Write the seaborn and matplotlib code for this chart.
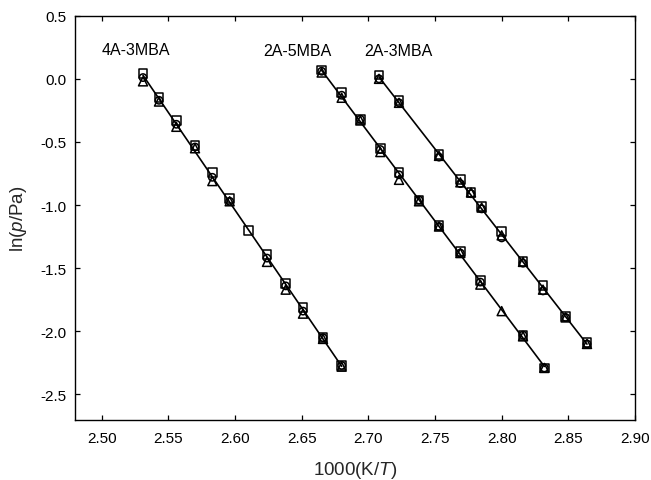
import numpy as np
import matplotlib
matplotlib.use("Agg")
import matplotlib.pyplot as plt
import seaborn as sns

nan = np.nan

# 4A-3MBA
x_4a3 = [2.531, 2.543, 2.556, 2.570, 2.583, 2.596, 2.610, 2.624, 2.638, 2.651, 2.666, 2.680]
sq_4a3 = [0.04, -0.15, -0.33, -0.53, -0.74, -0.95, -1.20, -1.39, -1.62, -1.81, -2.05, -2.27]
ci_4a3 = [0.01, -0.17, -0.36, -0.54, -0.78, -0.97, nan, -1.42, -1.64, -1.84, -2.05, -2.27]
tr_4a3 = [-0.02, -0.18, -0.38, -0.55, -0.81, -0.97, nan, -1.45, -1.67, -1.86, -2.06, -2.28]

# 2A-5MBA
x_2a5 = [2.665, 2.680, 2.694, 2.709, 2.723, 2.738, 2.753, 2.769, 2.784, 2.800, 2.816, 2.832]
sq_2a5 = [0.07, -0.11, -0.32, -0.55, -0.74, -0.96, -1.16, -1.37, -1.60, nan, -2.03, -2.29]
ci_2a5 = [0.06, -0.13, -0.32, -0.56, -0.76, -0.96, -1.17, -1.38, -1.61, nan, -2.03, -2.29]
tr_2a5 = [0.05, -0.15, -0.33, -0.58, -0.80, -0.97, -1.17, -1.38, -1.63, -1.84, -2.04, -2.29]

# 2A-3MBA
x_2a3 = [2.708, 2.723, 2.753, 2.769, 2.777, 2.785, 2.800, 2.816, 2.831, 2.848, 2.864]
sq_2a3 = [0.03, -0.17, -0.60, -0.80, -0.90, -1.01, -1.21, -1.45, -1.64, -1.88, -2.09]
ci_2a3 = [0.00, -0.19, -0.62, -0.83, -0.91, -1.03, -1.26, -1.46, -1.68, -1.89, -2.10]
tr_2a3 = [0.00, -0.19, -0.61, -0.82, -0.90, -1.02, -1.24, -1.45, -1.67, -1.89, -2.10]

labels = ["4A-3MBA", "2A-5MBA", "2A-3MBA"]
label_x = [2.500, 2.621, 2.697]
label_y = [0.235, 0.225, 0.225]

xticks = [2.50, 2.55, 2.60, 2.65, 2.70, 2.75, 2.80, 2.85, 2.90]
yticks = [-2.5, -2.0, -1.5, -1.0, -0.5, 0.0, 0.5]

sns.set_style("ticks")
plt.rcParams['font.family'] = ['Liberation Sans', 'DejaVu Sans']
plt.rcParams['mathtext.fontset'] = 'custom'
plt.rcParams['mathtext.it'] = 'Liberation Sans:italic'
plt.rcParams['mathtext.rm'] = 'Liberation Sans'
plt.rcParams['axes.unicode_minus'] = False

fig = plt.figure(figsize=(6.51, 4.81), dpi=100)
ax = fig.add_axes([75/651, 1 - 420.7/481, (635 - 75)/651, (420.7 - 16.7)/481])

series = [(x_4a3, sq_4a3, ci_4a3, tr_4a3),
          (x_2a5, sq_2a5, ci_2a5, tr_2a5),
          (x_2a3, sq_2a3, ci_2a3, tr_2a3)]

for xs, sq, ci, tr in series:
    xs = np.array(xs)
    allx = np.concatenate([xs, xs, xs])
    ally = np.concatenate([sq, ci, tr])
    m = ~np.isnan(ally)
    sns.regplot(x=allx[m], y=ally[m], ax=ax, scatter=False, ci=None, truncate=True,
                line_kws=dict(color='black', lw=1.2))
    for ys, mk, s in [(sq, 's', 40), (ci, 'o', 28), (tr, '^', 42)]:
        ys = np.array(ys)
        mm = ~np.isnan(ys)
        sns.scatterplot(x=xs[mm], y=ys[mm], ax=ax, marker=mk, s=s,
                        facecolor='none', edgecolor='black', linewidth=1.1, zorder=3)

for lab, lx, ly in zip(labels, label_x, label_y):
    ax.text(lx, ly, lab, fontsize=11.5, ha='left', va='center', color='black')

ax.set_xlim(2.48, 2.90)
ax.set_ylim(-2.70, 0.5)
ax.set_xticks(xticks)
ax.set_yticks(yticks)
ax.set_xticklabels([f"{v:.2f}" for v in xticks])
ax.set_yticklabels([f"{v:.1f}" for v in yticks])
ax.tick_params(direction='in', top=True, right=True, length=3.5, width=0.9,
               labelsize=11, colors='black')
ax.tick_params(axis='x', pad=8)
ax.tick_params(axis='y', pad=6)
for sp in ax.spines.values():
    sp.set_visible(True)
    sp.set_linewidth(1.0)
    sp.set_color('black')

ax.set_xlabel(r"1000(K/$\mathit{T}$)", fontsize=13.5, labelpad=10)
ax.set_ylabel(r"ln($\mathit{p}$/Pa)", fontsize=13.5, labelpad=8)

fig.savefig("out.png", dpi=100)
